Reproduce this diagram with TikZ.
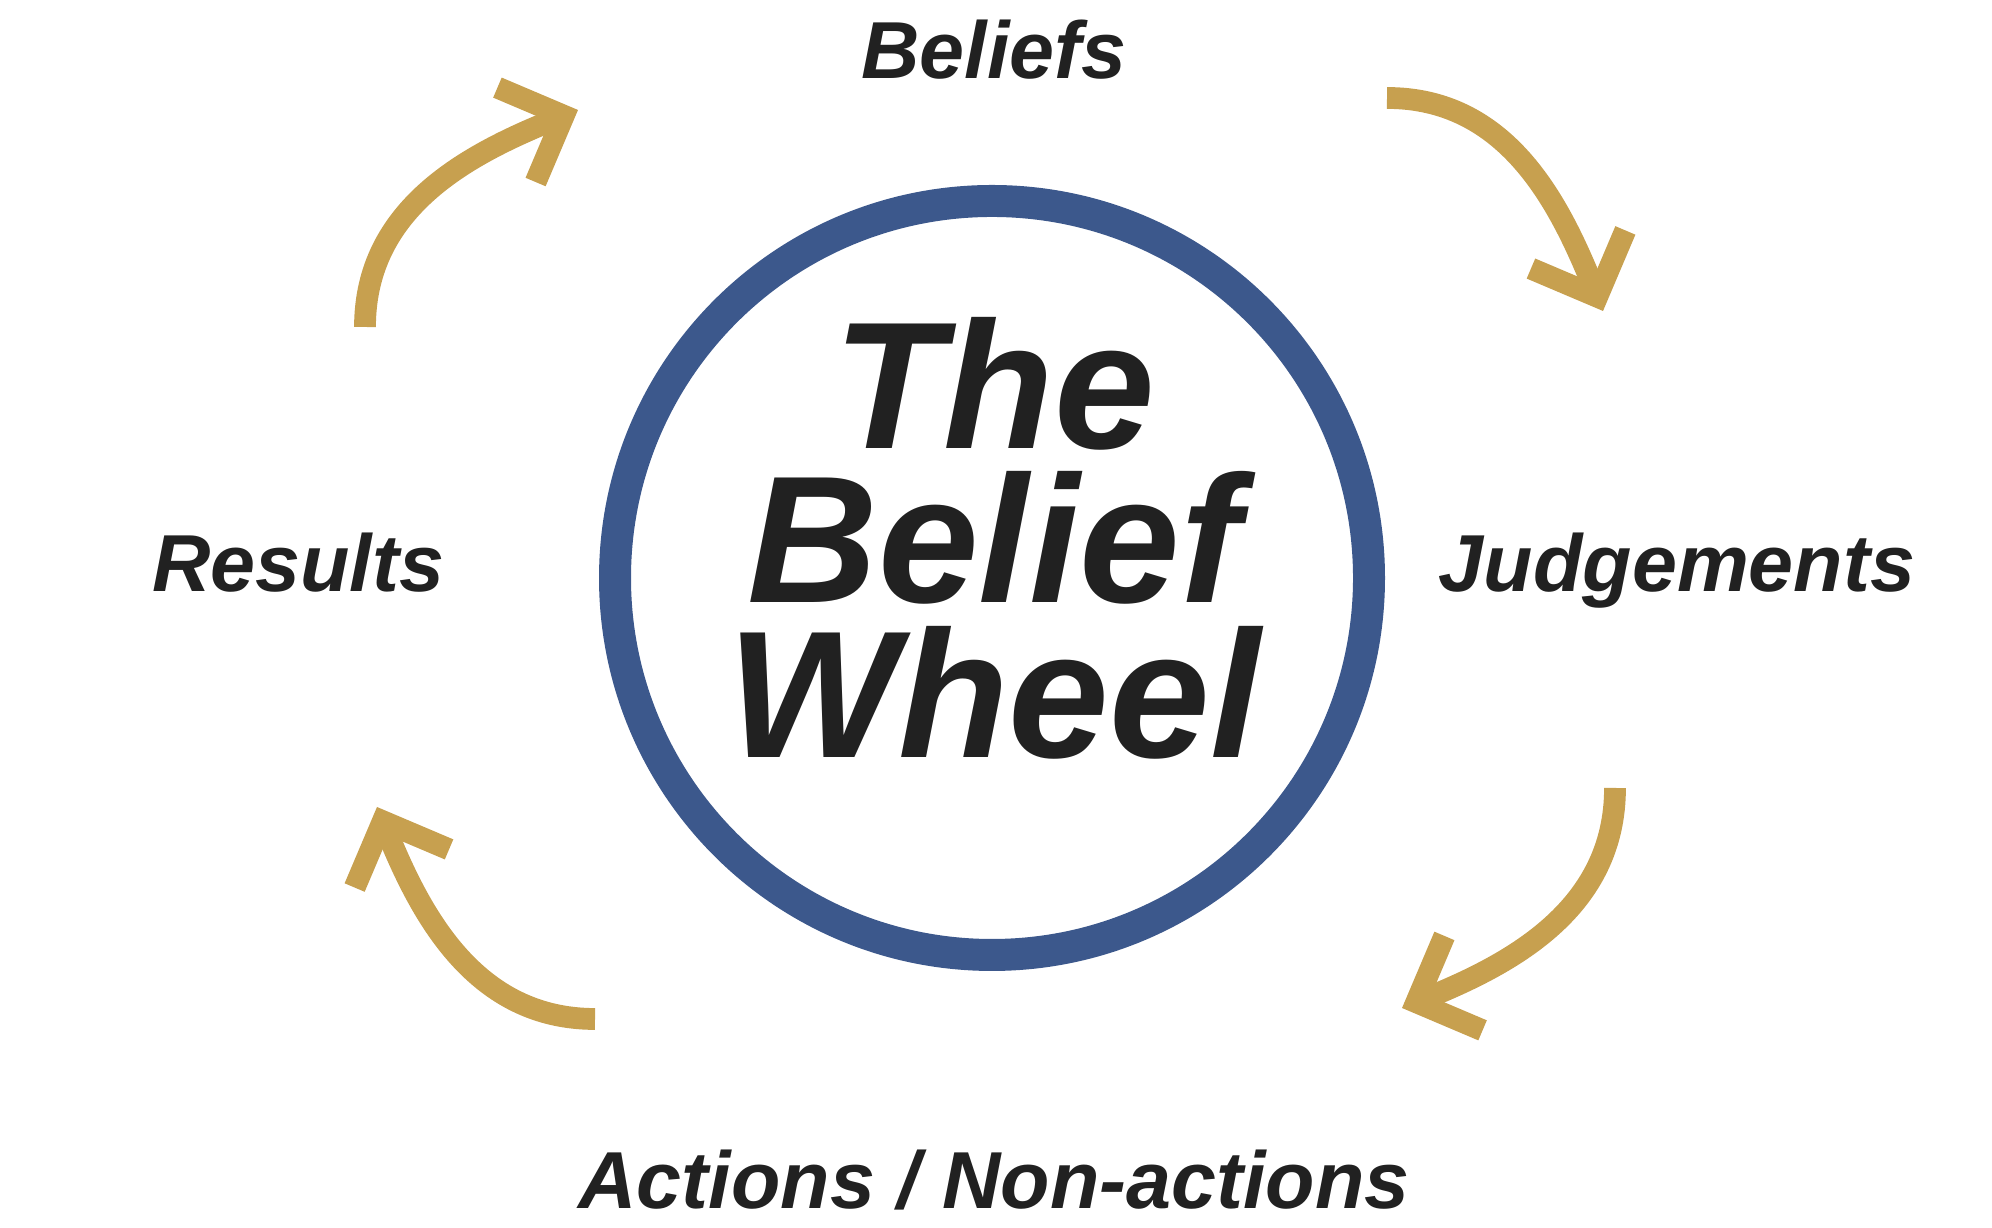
\documentclass[tikz,border=0pt]{standalone}
\usepackage{fontspec}
\setmainfont{Liberation Sans}
\usetikzlibrary{arrows.meta}

\begin{document}
\begin{tikzpicture}
\definecolor{wheel_blue}{RGB}{60,88,140}
\definecolor{wheel_gold}{RGB}{199,160,79}
\definecolor{wheel_text}{RGB}{33,33,33}

\tikzset{
  label_txt/.style={text=wheel_text, anchor=base, inner sep=0pt,
    font=\fontsize{23}{28}\selectfont\bfseries\itshape},
  turn_arrow/.style={wheel_gold, line width=6.2pt,
    -{Straight Barb[angle=90:7.2mm]}},
}

\useasboundingbox (0,0) rectangle (19.92,12.28);

% the wheel
\coordinate (M) at (9.92,6.50);
\draw[wheel_blue, line width=9.1pt] (M) circle (3.77);
\node[text=wheel_text, align=center, inner sep=0pt,
      font=\fontsize{51.5}{44}\selectfont\bfseries\itshape] (T) at (9.94,6.90) {The\\Belief\\Wheel};

% the four stages
\foreach \x/\y/\name/\txt in {9.94/11.49/B/Beliefs,16.77/6.36/J/Judgements,
                              2.98/6.36/R/Results,9.94/0.19/N/{Actions / Non-actions}} {
    \node[label_txt] (\name) at (\x,\y) {\txt};
}

% arrows between the stages
\coordinate (S1) at (3.65,9.01);   \coordinate (E1) at (5.78,11.18);
\coordinate (S2) at (13.87,11.30); \coordinate (E2) at (16.03,9.17);
\coordinate (S3) at (16.15,4.40);  \coordinate (E3) at (14.02,2.20);
\coordinate (S4) at (5.95,2.09);   \coordinate (E4) at (3.77,4.21);

\foreach \a/\b/\o/\i in {S1/E1/90/202,S2/E2/0/112,S3/E3/270/22,S4/E4/180/292} {
    \draw[turn_arrow] (\a) to[out=\o,in=\i] (\b);
}
\end{tikzpicture}
\end{document}
